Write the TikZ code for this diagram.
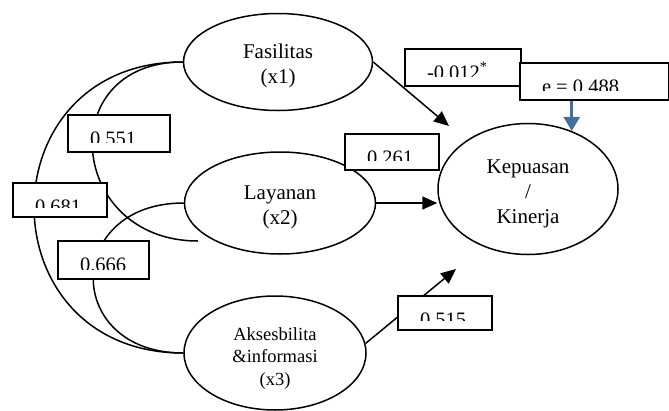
\documentclass[tikz,border=0pt]{standalone}
\usepackage{fontspec}
\setmainfont{Liberation Serif}
\usetikzlibrary{shapes.geometric,arrows.meta,backgrounds}
\definecolor{eblue}{RGB}{65,113,156}
\newcommand\topstrut{\rule{0pt}{23pt}}
\tikzset{
  construct/.style={ellipse, draw, line width=1.5pt, inner sep=0pt, align=center,
    font=\fontsize{21}{25}\selectfont},
  valbox/.style={rectangle, draw, line width=2pt, fill=white, anchor=north west,
    inner sep=0pt, minimum height=37pt,
    path picture={
      \clip ([yshift=10pt]path picture bounding box.south west) rectangle (path picture bounding box.north east);
      \node[anchor=base west, inner sep=0pt, minimum width=0pt, minimum height=0pt, draw=none, fill=none,
        font=\fontsize{20.5}{24}\selectfont]
        at ([xshift=21pt,yshift=-30pt]path picture bounding box.north west) {#1};}},
  corr/.style={line width=1.5pt},
  effect/.style={line width=1.5pt, -{Triangle[length=15pt,width=13pt]}},
  errarrow/.style={draw=eblue, line width=2.5pt, -{Triangle[length=14pt,width=16pt]}}
}
\begin{document}
\begin{tikzpicture}[x=1pt,y=-1pt]
\useasboundingbox (0,0) rectangle (669,410);
% constructs
\node[construct, minimum width=189pt, minimum height=97pt] (fas) at (278,62) {\topstrut Fasilitas\\(x1)};
\node[construct, minimum width=191pt, minimum height=102pt] (lay) at (280,203) {\topstrut Layanan\\(x2)};
\node[construct, minimum width=182pt, minimum height=114pt, font=\fontsize{18.5}{22.5}\selectfont] (aks) at (275,353) {\topstrut Aksesbilita\\\&informasi\\(x3)};
\node[construct, minimum width=180pt, minimum height=131pt] (kep) at (528,189) {\topstrut Kepuasan\\/\\Kinerja};
% value boxes
\node[valbox={0.551}, minimum width=102pt] (b551) at (67,114) {};
\node[valbox={0.681}, minimum width=94pt, minimum height=34pt] (b681) at (12,182) {};
\node[valbox={0.666}, minimum width=91pt, minimum height=38pt] (b666) at (57,240) {};
\node[valbox={0.261}, minimum width=94pt, minimum height=36pt] (b261) at (344,133) {};
\node[valbox={-0.012\textsuperscript{*}}, minimum width=116pt] (b012) at (404,48) {};
\node[valbox={e = 0.488}, minimum width=149pt] (be) at (519,62) {};
\node[valbox={0.515}, minimum width=94pt, minimum height=34pt] (b515) at (397,295) {};
% free ends
\coordinate (fasEnd) at (449,126);
\coordinate (aksEnd) at (456,269);
\coordinate (c551) at (198,241);
\begin{scope}[on background layer]
\draw[corr] (fas.west) to[out=180,in=180,looseness=1.75] (aks.west);
\draw[corr] (fas.west) to[out=180,in=180,looseness=1.86] (c551);
\draw[corr] (lay.west) to[out=180,in=180,looseness=2.05] (aks.west);
\draw[effect] (fas.east) -- (fasEnd);
\draw[effect] (lay.east) -- (lay.east -| kep.west);
\draw[effect] (aks.6) -- (aksEnd);
\draw[errarrow] (be.south -| kep.53) -- (kep.53);
\end{scope}
\end{tikzpicture}
\end{document}
